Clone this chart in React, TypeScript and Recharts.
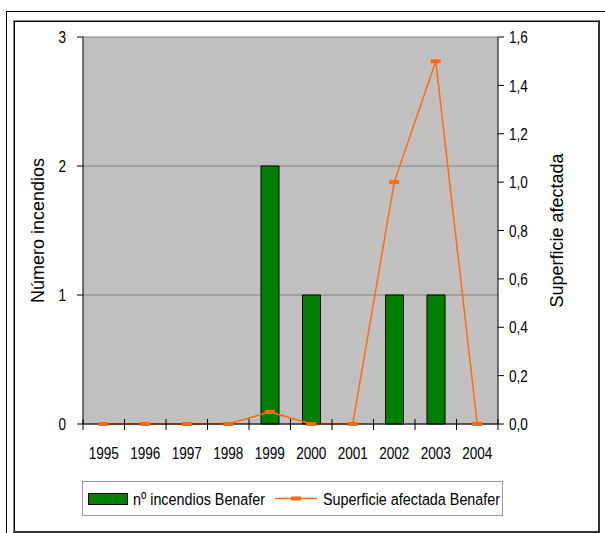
import React from "react";
import { ComposedChart, Bar, Line, XAxis, YAxis, CartesianGrid, Legend } from "recharts";

const years = ["1995", "1996", "1997", "1998", "1999", "2000", "2001", "2002", "2003", "2004"];
const incendios = [0, 0, 0, 0, 2, 1, 0, 1, 1, 0];
const superficie = [0, 0, 0, 0, 0.05, 0, 0, 1.0, 1.5, 0];
const leftTicks = [0, 1, 2, 3];
const rightTicks = [0, 0.2, 0.4, 0.6, 0.8, 1.0, 1.2, 1.4, 1.6];
const barName = "nº incendios Benafer";
const lineName = "Superficie afectada Benafer";

const data = years.map((y, i) => ({ year: y, incendios: incendios[i], superficie: superficie[i] }));

const FONT = "'Liberation Sans', Arial, sans-serif";
const ORANGE = "#FF6A0D";
const GREEN = "#008000";
const SQ = 0.8;

const XTick = (props: any) => {
  const { x, y, payload, index } = props;
  const off = payload && typeof payload.offset === "number" && payload.offset > 0 ? payload.offset : 20.75;
  return (
    <g>
      <line x1={x - off} x2={x - off} y1={y - 5} y2={y + 6} stroke="#000" strokeWidth={1} />
      {index === years.length - 1 && (
        <line x1={x + off} x2={x + off} y1={y - 5} y2={y + 6} stroke="#000" strokeWidth={1} />
      )}
      <text
        transform={`translate(${x},${y + 35}) scale(${SQ},1)`}
        textAnchor="middle"
        fontFamily={FONT}
        fontSize={17}
        fill="#000"
      >
        {payload.value}
      </text>
    </g>
  );
};

const makeYTick = (anchor: "start" | "end", fmt: (v: number) => string) => (props: any) => {
  const { x, y, payload } = props;
  return (
    <text
      transform={`translate(${x},${y}) scale(${SQ},1)`}
      dy="0.36em"
      textAnchor={anchor}
      fontFamily={FONT}
      fontSize={17}
      fill="#000"
    >
      {fmt(payload.value)}
    </text>
  );
};

const LeftTick = makeYTick("end", (v) => String(v));
const RightTick = makeYTick("start", (v) => v.toFixed(1).replace(".", ","));

const Marker = (props: any) => {
  const { cx, cy } = props;
  if (cx == null || cy == null) return null;
  return <rect x={cx - 5} y={cy - 2} width={10} height={4} fill={ORANGE} />;
};

const LegendContent = () => (
  <svg width={421} height={35} style={{ display: "block" }}>
    <rect x={0.5} y={0.5} width={420} height={34} fill="#fff" stroke="#9a9a9a" strokeWidth={1} />
    <rect x={6.5} y={12.5} width={39} height={11} fill={GREEN} stroke="#000" strokeWidth={1} />
    <text
      transform={`translate(51,24) scale(0.845,1)`}
      fontFamily={FONT}
      fontSize={17}
      fill="#000"
    >
      {barName}
    </text>
    <line x1={193} x2={235} y1={17.5} y2={17.5} stroke={ORANGE} strokeWidth={1.5} />
    <rect x={209} y={15.5} width={10} height={4} fill={ORANGE} />
    <text
      transform={`translate(241,24) scale(0.845,1)`}
      fontFamily={FONT}
      fontSize={17}
      fill="#000"
    >
      {lineName}
    </text>
  </svg>
);

export default function App() {
  return (
    <div style={{ position: "absolute", left: 0, top: 0, width: 605, height: 533, background: "#fff", overflow: "hidden" }}>
      <div style={{ position: "absolute", left: 6, top: 11, width: 620, height: 540, border: "1px solid #000" }} />
      <div
        style={{
          position: "absolute",
          left: 13,
          top: 20,
          width: 584,
          height: 510,
          borderTop: "1px solid #888",
          borderLeft: "1px solid #888",
          borderRight: "2px solid #333",
          borderBottom: "2px solid #333",
          boxShadow: "inset 1px 1px 0 #000",
        }}
      />
      <div style={{ position: "absolute", left: 0, top: 0 }}>
        <ComposedChart
          width={605}
          height={533}
          data={data}
          margin={{ top: 37, right: 0, bottom: 69, left: 0 }}
          barCategoryGap={0}
        >
          <CartesianGrid
            yAxisId="left"
            vertical={false}
            stroke="#808080"
            fill="#C0C0C0"
            fillOpacity={1}
          />
          <XAxis
            dataKey="year"
            type="category"
            axisLine={{ stroke: "#000" }}
            tickLine={false}
            tickSize={0}
            tickMargin={0}
            height={40}
            interval={0}
            tick={<XTick />}
          />
          <YAxis
            yAxisId="left"
            orientation="left"
            domain={[0, 3]}
            ticks={leftTicks}
            width={83}
            axisLine={{ stroke: "#000" }}
            tickLine={{ stroke: "#000" }}
            tickSize={6}
            tickMargin={11}
            tick={<LeftTick />}
            label={{
              value: "Número incendios",
              angle: -90,
              position: "center",
              dx: -4,
              style: { fontFamily: FONT, fontSize: 18, fill: "#000", textAnchor: "middle" },
            }}
          />
          <YAxis
            yAxisId="right"
            orientation="right"
            domain={[0, 1.6]}
            ticks={rightTicks}
            width={107}
            axisLine={{ stroke: "#000" }}
            tickLine={{ stroke: "#000" }}
            tickSize={6}
            tickMargin={5}
            tick={<RightTick />}
            label={{
              value: "Superficie afectada",
              angle: -90,
              position: "center",
              dx: 5,
              style: { fontFamily: FONT, fontSize: 18, fill: "#000", textAnchor: "middle" },
            }}
          />
          <Bar
            yAxisId="left"
            dataKey="incendios"
            name={barName}
            fill={GREEN}
            stroke="#000"
            strokeWidth={1}
            barSize={18}
            isAnimationActive={false}
          />
          <Line
            yAxisId="right"
            dataKey="superficie"
            name={lineName}
            stroke={ORANGE}
            strokeWidth={1.5}
            dot={<Marker />}
            activeDot={false}
            isAnimationActive={false}
          />
          <Legend
            layout="horizontal"
            verticalAlign="middle"
            align="center"
            wrapperStyle={{ left: 82, top: 481, width: 421, height: 35 }}
            content={<LegendContent />}
          />
        </ComposedChart>
      </div>
    </div>
  );
}
